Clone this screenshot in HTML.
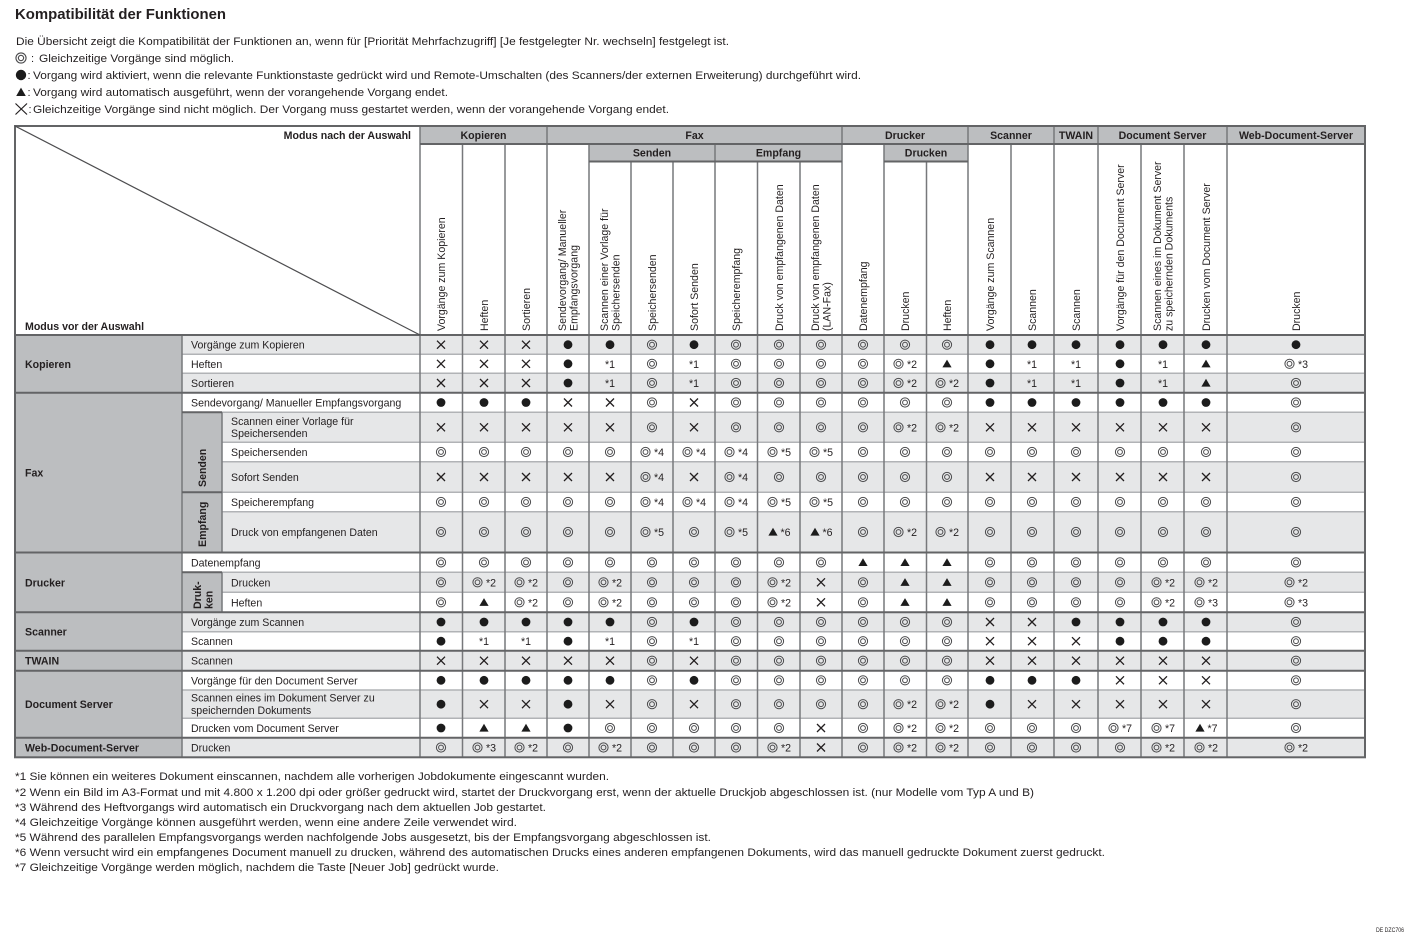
<!DOCTYPE html>
<html><head><meta charset="utf-8"><style>
html,body{margin:0;padding:0;background:#fff;}
svg{display:block;}
text{font-family:"Liberation Sans",Arial,sans-serif;fill:#231f20;font-size:10.6px;}
.b{font-weight:bold;}
.m{text-anchor:middle;}
.e{text-anchor:end;}
.i{font-size:11px;}
</style></head><body>
<svg width="1418" height="941" viewBox="0 0 1418 941" xmlns="http://www.w3.org/2000/svg">
<defs>
<g id="D"><circle r="4.6" fill="none" stroke="#4a4a4c" stroke-width="1"/><circle r="2.4" fill="none" stroke="#4a4a4c" stroke-width="1"/></g>
<circle id="B" r="4.4" fill="#1c1c1c"/>
<path id="X" d="M-4,-4L4,4M4,-4L-4,4" stroke="#231f20" stroke-width="1.3" fill="none"/>
<path id="T" d="M0,-4.2L4.6,3.6H-4.6Z" fill="#1c1c1c"/>
</defs>

<!-- Title & legend -->
<text class="b" x="15" y="19" style="font-size:15px" textLength="211" lengthAdjust="spacingAndGlyphs">Kompatibilität der Funktionen</text>
<text class="i" x="16" y="45" textLength="713" lengthAdjust="spacingAndGlyphs">Die Übersicht zeigt die Kompatibilität der Funktionen an, wenn für [Priorität Mehrfachzugriff] [Je festgelegter Nr. wechseln] festgelegt ist.</text>
<use href="#D" transform="translate(21,58) scale(1.1)"/>
<text class="i" x="31" y="62">:</text>
<text class="i" x="39" y="62" textLength="195" lengthAdjust="spacingAndGlyphs">Gleichzeitige Vorgänge sind möglich.</text>
<circle cx="21" cy="75" r="5.2" fill="#1c1c1c"/>
<text class="i" x="27.5" y="79">:</text>
<text class="i" x="33" y="79" textLength="828" lengthAdjust="spacingAndGlyphs">Vorgang wird aktiviert, wenn die relevante Funktionstaste gedrückt wird und Remote-Umschalten (des Scanners/der externen Erweiterung) durchgeführt wird.</text>
<path d="M21,87.6L25.8,96H16.2Z" fill="#1c1c1c"/>
<text class="i" x="27.5" y="96">:</text>
<text class="i" x="33" y="96" textLength="415" lengthAdjust="spacingAndGlyphs">Vorgang wird automatisch ausgeführt, wenn der vorangehende Vorgang endet.</text>
<path d="M15.5,103.5L27,114.5M27,103.5L15.5,114.5" stroke="#231f20" stroke-width="1.2" fill="none"/>
<text class="i" x="28.5" y="113">:</text>
<text class="i" x="33" y="113" textLength="636" lengthAdjust="spacingAndGlyphs">Gleichzeitige Vorgänge sind nicht möglich. Der Vorgang muss gestartet werden, wenn der vorangehende Vorgang endet.</text>

<!-- Backgrounds -->
<rect x="420" y="126" width="945" height="18" fill="#bcbec0"/>
<rect x="589" y="144" width="253" height="17.5" fill="#bcbec0"/>
<rect x="884" y="144" width="84" height="17.5" fill="#bcbec0"/>
<rect x="15" y="335" width="167" height="422.3" fill="#bcbec0"/>
<g fill="#e6e7e8">
<rect x="182" y="335" width="1183" height="19.3"/>
<rect x="182" y="373.3" width="1183" height="19.4"/>
<rect x="182" y="412.3" width="1183" height="30"/>
<rect x="182" y="461.7" width="1183" height="30.6"/>
<rect x="182" y="511.7" width="1183" height="40.8"/>
<rect x="182" y="572.3" width="1183" height="20"/>
<rect x="182" y="612.3" width="1183" height="19.4"/>
<rect x="182" y="650.7" width="1183" height="20"/>
<rect x="182" y="690" width="1183" height="28.3"/>
<rect x="182" y="737.7" width="1183" height="19.6"/>
</g>
<rect x="182" y="412.3" width="40" height="140.2" fill="#bcbec0"/>
<rect x="182" y="572.3" width="40" height="40" fill="#bcbec0"/>

<!-- Light horizontal lines -->
<path d="M182 354.3H1365M182 373.3H1365M222 412.3H1365M222 442.3H1365M222 461.7H1365M222 492.3H1365M222 511.7H1365M182 572.3H1365M222 592.3H1365M182 631.7H1365M182 690H1365M182 718.3H1365" stroke="#b1b3b6" stroke-width="1.5" fill="none"/>
<!-- Verticals -->
<path d="M182 335V757.3M222 412.3V552.5M222 572.3V612.3M420 126V757.3M462.5 144V757.3M505 144V757.3M547 126V757.3M589 144V757.3M631 161.5V757.3M673 161.5V757.3M715 144V757.3M757.5 161.5V757.3M800 161.5V757.3M842 126V757.3M884 144V757.3M926.5 161.5V757.3M968 126V757.3M1011 144V757.3M1054 126V757.3M1098 126V757.3M1141 144V757.3M1184 144V757.3M1227 126V757.3" stroke="#77787b" stroke-width="1.5" fill="none"/>
<!-- Dark horizontals -->
<path d="M420 144H1365M589 161.5H842M884 161.5H968M15 335H1365M15 392.7H1365M15 552.5H1365M15 612.3H1365M15 650.7H1365M15 670.7H1365M15 737.7H1365M182 412.3H222M182 492.3H222M182 572.3H222" stroke="#636466" stroke-width="2" fill="none"/>
<rect x="15" y="126" width="1350" height="631.3" fill="none" stroke="#636466" stroke-width="2"/>
<path d="M15 126L420 335" stroke="#4d4d4f" stroke-width="1.2"/>

<!-- Header text -->
<text class="b e" x="411" y="139">Modus nach der Auswahl</text>
<text class="b" x="25" y="330">Modus vor der Auswahl</text>
<text class="b m" x="483.5" y="139">Kopieren</text>
<text class="b m" x="694.5" y="139">Fax</text>
<text class="b m" x="905" y="139">Drucker</text>
<text class="b m" x="1011" y="139">Scanner</text>
<text class="b m" x="1076" y="139">TWAIN</text>
<text class="b m" x="1162.5" y="139">Document Server</text>
<text class="b m" x="1296" y="139">Web-Document-Server</text>
<text class="b m" x="652" y="156.5">Senden</text>
<text class="b m" x="778.5" y="156.5">Empfang</text>
<text class="b m" x="926" y="156.5">Drucken</text>

<text transform="translate(445,331) rotate(-90)">Vorgänge zum Kopieren</text>
<text transform="translate(488,331) rotate(-90)">Heften</text>
<text transform="translate(530,331) rotate(-90)">Sortieren</text>
<text transform="translate(566,331) rotate(-90)">Sendevorgang/ Manueller</text>
<text transform="translate(577.5,331) rotate(-90)">Empfangsvorgang</text>
<text transform="translate(608,331) rotate(-90)">Scannen einer Vorlage für</text>
<text transform="translate(619.5,331) rotate(-90)">Speichersenden</text>
<text transform="translate(656,331) rotate(-90)">Speichersenden</text>
<text transform="translate(698,331) rotate(-90)">Sofort Senden</text>
<text transform="translate(740,331) rotate(-90)">Speicherempfang</text>
<text transform="translate(783,331) rotate(-90)">Druck von empfangenen Daten</text>
<text transform="translate(819,331) rotate(-90)">Druck von empfangenen Daten</text>
<text transform="translate(830.5,331) rotate(-90)">(LAN-Fax)</text>
<text transform="translate(867,331) rotate(-90)">Datenempfang</text>
<text transform="translate(909,331) rotate(-90)">Drucken</text>
<text transform="translate(951,331) rotate(-90)">Heften</text>
<text transform="translate(994,331) rotate(-90)">Vorgänge zum Scannen</text>
<text transform="translate(1036,331) rotate(-90)">Scannen</text>
<text transform="translate(1080,331) rotate(-90)">Scannen</text>
<text transform="translate(1124,331) rotate(-90)">Vorgänge für den Document Server</text>
<text transform="translate(1161,331) rotate(-90)">Scannen eines im Dokument Server</text>
<text transform="translate(1172.5,331) rotate(-90)">zu speichernden Dokuments</text>
<text transform="translate(1210,331) rotate(-90)">Drucken vom Document Server</text>
<text transform="translate(1300,331) rotate(-90)">Drucken</text>

<!-- Group labels -->
<text class="b" x="25" y="367.8">Kopieren</text>
<text class="b" x="25" y="476.6">Fax</text>
<text class="b" x="25" y="586.4">Drucker</text>
<text class="b" x="25" y="635.5">Scanner</text>
<text class="b" x="25" y="664.7">TWAIN</text>
<text class="b" x="25" y="708.2">Document Server</text>
<text class="b" x="25" y="751.5">Web-Document-Server</text>
<text class="b" transform="translate(206,487) rotate(-90)">Senden</text>
<text class="b" transform="translate(206,547) rotate(-90)">Empfang</text>
<text class="b" transform="translate(201,609) rotate(-90)">Druk-</text>
<text class="b" transform="translate(212.5,609) rotate(-90)">ken</text>

<!-- R1 -->
<g transform="translate(0,344.7)">
<text x="191" y="4">Vorgänge zum Kopieren</text>
<use href="#X" x="441"/><use href="#X" x="484"/><use href="#X" x="526"/><use href="#B" x="568"/><use href="#B" x="610"/><use href="#D" x="652"/><use href="#B" x="694"/><use href="#D" x="736"/><use href="#D" x="779"/><use href="#D" x="821"/><use href="#D" x="863"/><use href="#D" x="905"/><use href="#D" x="947"/><use href="#B" x="990"/><use href="#B" x="1032"/><use href="#B" x="1076"/><use href="#B" x="1120"/><use href="#B" x="1163"/><use href="#B" x="1206"/><use href="#B" x="1296"/>
</g>
<!-- R2 -->
<g transform="translate(0,363.8)">
<text x="191" y="4">Heften</text>
<use href="#X" x="441"/><use href="#X" x="484"/><use href="#X" x="526"/><use href="#B" x="568"/><text class="m" x="610" y="4">*1</text><use href="#D" x="652"/><text class="m" x="694" y="4">*1</text><use href="#D" x="736"/><use href="#D" x="779"/><use href="#D" x="821"/><use href="#D" x="863"/><use href="#D" x="898.5"/><text x="907" y="4">*2</text><use href="#T" x="947"/><use href="#B" x="990"/><text class="m" x="1032" y="4">*1</text><text class="m" x="1076" y="4">*1</text><use href="#B" x="1120"/><text class="m" x="1163" y="4">*1</text><use href="#T" x="1206"/><use href="#D" x="1289.5"/><text x="1298" y="4">*3</text>
</g>
<!-- R3 -->
<g transform="translate(0,383)">
<text x="191" y="4">Sortieren</text>
<use href="#X" x="441"/><use href="#X" x="484"/><use href="#X" x="526"/><use href="#B" x="568"/><text class="m" x="610" y="4">*1</text><use href="#D" x="652"/><text class="m" x="694" y="4">*1</text><use href="#D" x="736"/><use href="#D" x="779"/><use href="#D" x="821"/><use href="#D" x="863"/><use href="#D" x="898.5"/><text x="907" y="4">*2</text><use href="#D" x="940.5"/><text x="949" y="4">*2</text><use href="#B" x="990"/><text class="m" x="1032" y="4">*1</text><text class="m" x="1076" y="4">*1</text><use href="#B" x="1120"/><text class="m" x="1163" y="4">*1</text><use href="#T" x="1206"/><use href="#D" x="1296"/>
</g>
<!-- R4 -->
<g transform="translate(0,402.5)">
<text x="191" y="4">Sendevorgang/ Manueller Empfangsvorgang</text>
<use href="#B" x="441"/><use href="#B" x="484"/><use href="#B" x="526"/><use href="#X" x="568"/><use href="#X" x="610"/><use href="#D" x="652"/><use href="#X" x="694"/><use href="#D" x="736"/><use href="#D" x="779"/><use href="#D" x="821"/><use href="#D" x="863"/><use href="#D" x="905"/><use href="#D" x="947"/><use href="#B" x="990"/><use href="#B" x="1032"/><use href="#B" x="1076"/><use href="#B" x="1120"/><use href="#B" x="1163"/><use href="#B" x="1206"/><use href="#D" x="1296"/>
</g>
<!-- R5 -->
<g transform="translate(0,427.3)">
<text x="231" y="-2.3">Scannen einer Vorlage für</text>
<text x="231" y="9.7">Speichersenden</text>
<use href="#X" x="441"/><use href="#X" x="484"/><use href="#X" x="526"/><use href="#X" x="568"/><use href="#X" x="610"/><use href="#D" x="652"/><use href="#X" x="694"/><use href="#D" x="736"/><use href="#D" x="779"/><use href="#D" x="821"/><use href="#D" x="863"/><use href="#D" x="898.5"/><text x="907" y="4">*2</text><use href="#D" x="940.5"/><text x="949" y="4">*2</text><use href="#X" x="990"/><use href="#X" x="1032"/><use href="#X" x="1076"/><use href="#X" x="1120"/><use href="#X" x="1163"/><use href="#X" x="1206"/><use href="#D" x="1296"/>
</g>
<!-- R6 -->
<g transform="translate(0,452)">
<text x="231" y="4">Speichersenden</text>
<use href="#D" x="441"/><use href="#D" x="484"/><use href="#D" x="526"/><use href="#D" x="568"/><use href="#D" x="610"/><use href="#D" x="645.5"/><text x="654" y="4">*4</text><use href="#D" x="687.5"/><text x="696" y="4">*4</text><use href="#D" x="729.5"/><text x="738" y="4">*4</text><use href="#D" x="772.5"/><text x="781" y="4">*5</text><use href="#D" x="814.5"/><text x="823" y="4">*5</text><use href="#D" x="863"/><use href="#D" x="905"/><use href="#D" x="947"/><use href="#D" x="990"/><use href="#D" x="1032"/><use href="#D" x="1076"/><use href="#D" x="1120"/><use href="#D" x="1163"/><use href="#D" x="1206"/><use href="#D" x="1296"/>
</g>
<!-- R7 -->
<g transform="translate(0,477)">
<text x="231" y="4">Sofort Senden</text>
<use href="#X" x="441"/><use href="#X" x="484"/><use href="#X" x="526"/><use href="#X" x="568"/><use href="#X" x="610"/><use href="#D" x="645.5"/><text x="654" y="4">*4</text><use href="#X" x="694"/><use href="#D" x="729.5"/><text x="738" y="4">*4</text><use href="#D" x="779"/><use href="#D" x="821"/><use href="#D" x="863"/><use href="#D" x="905"/><use href="#D" x="947"/><use href="#X" x="990"/><use href="#X" x="1032"/><use href="#X" x="1076"/><use href="#X" x="1120"/><use href="#X" x="1163"/><use href="#X" x="1206"/><use href="#D" x="1296"/>
</g>
<!-- R8 -->
<g transform="translate(0,502)">
<text x="231" y="4">Speicherempfang</text>
<use href="#D" x="441"/><use href="#D" x="484"/><use href="#D" x="526"/><use href="#D" x="568"/><use href="#D" x="610"/><use href="#D" x="645.5"/><text x="654" y="4">*4</text><use href="#D" x="687.5"/><text x="696" y="4">*4</text><use href="#D" x="729.5"/><text x="738" y="4">*4</text><use href="#D" x="772.5"/><text x="781" y="4">*5</text><use href="#D" x="814.5"/><text x="823" y="4">*5</text><use href="#D" x="863"/><use href="#D" x="905"/><use href="#D" x="947"/><use href="#D" x="990"/><use href="#D" x="1032"/><use href="#D" x="1076"/><use href="#D" x="1120"/><use href="#D" x="1163"/><use href="#D" x="1206"/><use href="#D" x="1296"/>
</g>
<!-- R9 -->
<g transform="translate(0,532)">
<text x="231" y="4">Druck von empfangenen Daten</text>
<use href="#D" x="441"/><use href="#D" x="484"/><use href="#D" x="526"/><use href="#D" x="568"/><use href="#D" x="610"/><use href="#D" x="645.5"/><text x="654" y="4">*5</text><use href="#D" x="694"/><use href="#D" x="729.5"/><text x="738" y="4">*5</text><use href="#T" x="773"/><text x="780.5" y="4">*6</text><use href="#T" x="815"/><text x="822.5" y="4">*6</text><use href="#D" x="863"/><use href="#D" x="898.5"/><text x="907" y="4">*2</text><use href="#D" x="940.5"/><text x="949" y="4">*2</text><use href="#D" x="990"/><use href="#D" x="1032"/><use href="#D" x="1076"/><use href="#D" x="1120"/><use href="#D" x="1163"/><use href="#D" x="1206"/><use href="#D" x="1296"/>
</g>
<!-- R10 -->
<g transform="translate(0,562.4)">
<text x="191" y="4">Datenempfang</text>
<use href="#D" x="441"/><use href="#D" x="484"/><use href="#D" x="526"/><use href="#D" x="568"/><use href="#D" x="610"/><use href="#D" x="652"/><use href="#D" x="694"/><use href="#D" x="736"/><use href="#D" x="779"/><use href="#D" x="821"/><use href="#T" x="863"/><use href="#T" x="905"/><use href="#T" x="947"/><use href="#D" x="990"/><use href="#D" x="1032"/><use href="#D" x="1076"/><use href="#D" x="1120"/><use href="#D" x="1163"/><use href="#D" x="1206"/><use href="#D" x="1296"/>
</g>
<!-- R11 -->
<g transform="translate(0,582.3)">
<text x="231" y="4">Drucken</text>
<use href="#D" x="441"/><use href="#D" x="477.5"/><text x="486" y="4">*2</text><use href="#D" x="519.5"/><text x="528" y="4">*2</text><use href="#D" x="568"/><use href="#D" x="603.5"/><text x="612" y="4">*2</text><use href="#D" x="652"/><use href="#D" x="694"/><use href="#D" x="736"/><use href="#D" x="772.5"/><text x="781" y="4">*2</text><use href="#X" x="821"/><use href="#D" x="863"/><use href="#T" x="905"/><use href="#T" x="947"/><use href="#D" x="990"/><use href="#D" x="1032"/><use href="#D" x="1076"/><use href="#D" x="1120"/><use href="#D" x="1156.5"/><text x="1165" y="4">*2</text><use href="#D" x="1199.5"/><text x="1208" y="4">*2</text><use href="#D" x="1289.5"/><text x="1298" y="4">*2</text>
</g>
<!-- R12 -->
<g transform="translate(0,602.3)">
<text x="231" y="4">Heften</text>
<use href="#D" x="441"/><use href="#T" x="484"/><use href="#D" x="519.5"/><text x="528" y="4">*2</text><use href="#D" x="568"/><use href="#D" x="603.5"/><text x="612" y="4">*2</text><use href="#D" x="652"/><use href="#D" x="694"/><use href="#D" x="736"/><use href="#D" x="772.5"/><text x="781" y="4">*2</text><use href="#X" x="821"/><use href="#D" x="863"/><use href="#T" x="905"/><use href="#T" x="947"/><use href="#D" x="990"/><use href="#D" x="1032"/><use href="#D" x="1076"/><use href="#D" x="1120"/><use href="#D" x="1156.5"/><text x="1165" y="4">*2</text><use href="#D" x="1199.5"/><text x="1208" y="4">*3</text><use href="#D" x="1289.5"/><text x="1298" y="4">*3</text>
</g>
<!-- R13 -->
<g transform="translate(0,622)">
<text x="191" y="4">Vorgänge zum Scannen</text>
<use href="#B" x="441"/><use href="#B" x="484"/><use href="#B" x="526"/><use href="#B" x="568"/><use href="#B" x="610"/><use href="#D" x="652"/><use href="#B" x="694"/><use href="#D" x="736"/><use href="#D" x="779"/><use href="#D" x="821"/><use href="#D" x="863"/><use href="#D" x="905"/><use href="#D" x="947"/><use href="#X" x="990"/><use href="#X" x="1032"/><use href="#B" x="1076"/><use href="#B" x="1120"/><use href="#B" x="1163"/><use href="#B" x="1206"/><use href="#D" x="1296"/>
</g>
<!-- R14 -->
<g transform="translate(0,641.2)">
<text x="191" y="4">Scannen</text>
<use href="#B" x="441"/><text class="m" x="484" y="4">*1</text><text class="m" x="526" y="4">*1</text><use href="#B" x="568"/><text class="m" x="610" y="4">*1</text><use href="#D" x="652"/><text class="m" x="694" y="4">*1</text><use href="#D" x="736"/><use href="#D" x="779"/><use href="#D" x="821"/><use href="#D" x="863"/><use href="#D" x="905"/><use href="#D" x="947"/><use href="#X" x="990"/><use href="#X" x="1032"/><use href="#X" x="1076"/><use href="#B" x="1120"/><use href="#B" x="1163"/><use href="#B" x="1206"/><use href="#D" x="1296"/>
</g>
<!-- R15 -->
<g transform="translate(0,660.7)">
<text x="191" y="4">Scannen</text>
<use href="#X" x="441"/><use href="#X" x="484"/><use href="#X" x="526"/><use href="#X" x="568"/><use href="#X" x="610"/><use href="#D" x="652"/><use href="#X" x="694"/><use href="#D" x="736"/><use href="#D" x="779"/><use href="#D" x="821"/><use href="#D" x="863"/><use href="#D" x="905"/><use href="#D" x="947"/><use href="#X" x="990"/><use href="#X" x="1032"/><use href="#X" x="1076"/><use href="#X" x="1120"/><use href="#X" x="1163"/><use href="#X" x="1206"/><use href="#D" x="1296"/>
</g>
<!-- R16 -->
<g transform="translate(0,680.3)">
<text x="191" y="4">Vorgänge für den Document Server</text>
<use href="#B" x="441"/><use href="#B" x="484"/><use href="#B" x="526"/><use href="#B" x="568"/><use href="#B" x="610"/><use href="#D" x="652"/><use href="#B" x="694"/><use href="#D" x="736"/><use href="#D" x="779"/><use href="#D" x="821"/><use href="#D" x="863"/><use href="#D" x="905"/><use href="#D" x="947"/><use href="#B" x="990"/><use href="#B" x="1032"/><use href="#B" x="1076"/><use href="#X" x="1120"/><use href="#X" x="1163"/><use href="#X" x="1206"/><use href="#D" x="1296"/>
</g>
<!-- R17 -->
<g transform="translate(0,704.2)">
<text x="191" y="-2.5">Scannen eines im Dokument Server zu</text>
<text x="191" y="9.8">speichernden Dokuments</text>
<use href="#B" x="441"/><use href="#X" x="484"/><use href="#X" x="526"/><use href="#B" x="568"/><use href="#X" x="610"/><use href="#D" x="652"/><use href="#X" x="694"/><use href="#D" x="736"/><use href="#D" x="779"/><use href="#D" x="821"/><use href="#D" x="863"/><use href="#D" x="898.5"/><text x="907" y="4">*2</text><use href="#D" x="940.5"/><text x="949" y="4">*2</text><use href="#B" x="990"/><use href="#X" x="1032"/><use href="#X" x="1076"/><use href="#X" x="1120"/><use href="#X" x="1163"/><use href="#X" x="1206"/><use href="#D" x="1296"/>
</g>
<!-- R18 -->
<g transform="translate(0,728)">
<text x="191" y="4">Drucken vom Document Server</text>
<use href="#B" x="441"/><use href="#T" x="484"/><use href="#T" x="526"/><use href="#B" x="568"/><use href="#D" x="610"/><use href="#D" x="652"/><use href="#D" x="694"/><use href="#D" x="736"/><use href="#D" x="779"/><use href="#X" x="821"/><use href="#D" x="863"/><use href="#D" x="898.5"/><text x="907" y="4">*2</text><use href="#D" x="940.5"/><text x="949" y="4">*2</text><use href="#D" x="990"/><use href="#D" x="1032"/><use href="#D" x="1076"/><use href="#D" x="1113.5"/><text x="1122" y="4">*7</text><use href="#D" x="1156.5"/><text x="1165" y="4">*7</text><use href="#T" x="1200"/><text x="1207.5" y="4">*7</text><use href="#D" x="1296"/>
</g>
<!-- R19 -->
<g transform="translate(0,747.5)">
<text x="191" y="4">Drucken</text>
<use href="#D" x="441"/><use href="#D" x="477.5"/><text x="486" y="4">*3</text><use href="#D" x="519.5"/><text x="528" y="4">*2</text><use href="#D" x="568"/><use href="#D" x="603.5"/><text x="612" y="4">*2</text><use href="#D" x="652"/><use href="#D" x="694"/><use href="#D" x="736"/><use href="#D" x="772.5"/><text x="781" y="4">*2</text><use href="#X" x="821"/><use href="#D" x="863"/><use href="#D" x="898.5"/><text x="907" y="4">*2</text><use href="#D" x="940.5"/><text x="949" y="4">*2</text><use href="#D" x="990"/><use href="#D" x="1032"/><use href="#D" x="1076"/><use href="#D" x="1120"/><use href="#D" x="1156.5"/><text x="1165" y="4">*2</text><use href="#D" x="1199.5"/><text x="1208" y="4">*2</text><use href="#D" x="1289.5"/><text x="1298" y="4">*2</text>
</g>

<!-- Footnotes -->
<text class="i" x="15" y="780" textLength="594" lengthAdjust="spacingAndGlyphs">*1 Sie können ein weiteres Dokument einscannen, nachdem alle vorherigen Jobdokumente eingescannt wurden.</text>
<text class="i" x="15" y="796" textLength="1019" lengthAdjust="spacingAndGlyphs">*2 Wenn ein Bild im A3-Format und mit 4.800 x 1.200 dpi oder größer gedruckt wird, startet der Druckvorgang erst, wenn der aktuelle Druckjob abgeschlossen ist. (nur Modelle vom Typ A und B)</text>
<text class="i" x="15" y="811" textLength="531" lengthAdjust="spacingAndGlyphs">*3 Während des Heftvorgangs wird automatisch ein Druckvorgang nach dem aktuellen Job gestartet.</text>
<text class="i" x="15" y="826" textLength="502" lengthAdjust="spacingAndGlyphs">*4 Gleichzeitige Vorgänge können ausgeführt werden, wenn eine andere Zeile verwendet wird.</text>
<text class="i" x="15" y="841" textLength="696" lengthAdjust="spacingAndGlyphs">*5 Während des parallelen Empfangsvorgangs werden nachfolgende Jobs ausgesetzt, bis der Empfangsvorgang abgeschlossen ist.</text>
<text class="i" x="15" y="856" textLength="1090" lengthAdjust="spacingAndGlyphs">*6 Wenn versucht wird ein empfangenes Document manuell zu drucken, während des automatischen Drucks eines anderen empfangenen Dokuments, wird das manuell gedruckte Dokument zuerst gedruckt.</text>
<text class="i" x="15" y="871" textLength="484" lengthAdjust="spacingAndGlyphs">*7 Gleichzeitige Vorgänge werden möglich, nachdem die Taste [Neuer Job] gedrückt wurde.</text>

<text x="1376" y="932" style="font-size:6px" textLength="28" lengthAdjust="spacingAndGlyphs">DE DZC706</text>
</svg>
</body></html>
